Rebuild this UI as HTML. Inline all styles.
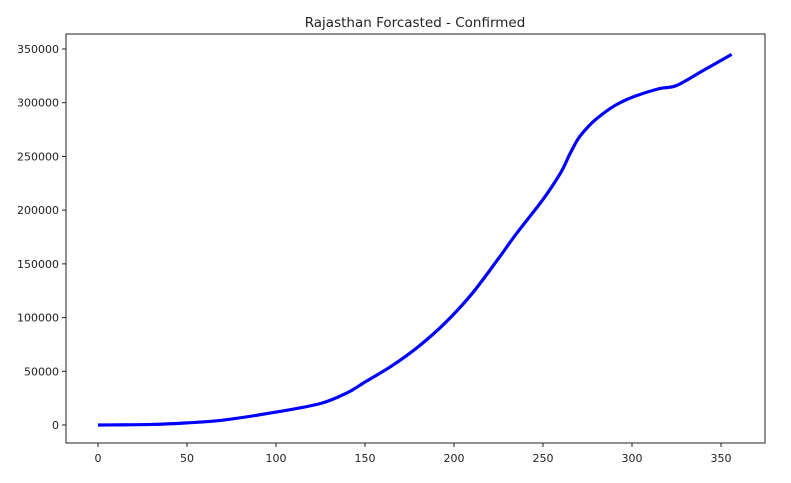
<!DOCTYPE html>
<html><head><meta charset="utf-8"><style>
body{margin:0;background:#fff;font-family:"Liberation Sans","DejaVu Sans",sans-serif;}
svg text{font-family:"DejaVu Sans","Liberation Sans",sans-serif;font-size:11px;fill:#222;}
</style></head><body>
<svg id="chart" width="791" height="478" xmlns="http://www.w3.org/2000/svg">
<text x="415" y="27" text-anchor="middle" style="font-size:13.5px">Rajasthan Forcasted - Confirmed</text>
<rect x="66" y="34" width="699" height="409" fill="none" stroke="#222" stroke-width="1"/>
<g id="xt"></g><g id="yt"></g>
<path id="line" fill="none" stroke="#0000ff" stroke-width="3.2" stroke-linejoin="round"/>
</svg>
<script>
const xs=[0,30,50,70,100,125,140,150,165,180,195,210,225,235,250,260,265,270,275,280,290,300,315,325,340,356];
const ys=[0,500,2000,4500,12000,20000,30000,40000,55000,73000,95000,122000,155000,178000,210000,235000,252000,267000,277000,285000,297000,305000,313000,316000,330000,345000];
const xTicks=[0,50,100,150,200,250,300,350];
const yTicks=[0,50000,100000,150000,200000,250000,300000,350000];
const X=v=>98+v*1.78;
const Y=v=>425-v*(376/350000);
const ns="http://www.w3.org/2000/svg";
const xt=document.getElementById('xt'),yt=document.getElementById('yt');
xTicks.forEach(t=>{
 const l=document.createElementNS(ns,'line');
 l.setAttribute('x1',X(t));l.setAttribute('x2',X(t));l.setAttribute('y1',443);l.setAttribute('y2',447);l.setAttribute('stroke','#222');
 
 
 xt.appendChild(l);
 const tx=document.createElementNS(ns,'text');
 tx.setAttribute('x',X(t));tx.setAttribute('y',462);tx.setAttribute('text-anchor','middle');tx.textContent=t;
 
 
 xt.appendChild(tx);
});
yTicks.forEach(t=>{
 const l=document.createElementNS(ns,'line');
 l.setAttribute('x1',62);l.setAttribute('x2',66);l.setAttribute('y1',Y(t));l.setAttribute('y2',Y(t));l.setAttribute('stroke','#222');
 
 
 yt.appendChild(l);
 const tx=document.createElementNS(ns,'text');
 tx.setAttribute('x',59);tx.setAttribute('y',Y(t)+4);tx.setAttribute('text-anchor','end');tx.textContent=t;
 
 
 yt.appendChild(tx);
});
const P=xs.map((x,i)=>[X(x),Y(ys[i])]);
let d='M'+P[0][0]+','+P[0][1];
for(let i=0;i<P.length-1;i++){
 const p0=P[i-1]||P[i],p1=P[i],p2=P[i+1],p3=P[i+2]||P[i+1];
 const c1=[p1[0]+(p2[0]-p0[0])/6,p1[1]+(p2[1]-p0[1])/6];
 const c2=[p2[0]-(p3[0]-p1[0])/6,p2[1]-(p3[1]-p1[1])/6];
 d+=' C'+c1[0]+','+c1[1]+' '+c2[0]+','+c2[1]+' '+p2[0]+','+p2[1];
}
document.getElementById('line').setAttribute('d',d);
</script>
</body></html>
